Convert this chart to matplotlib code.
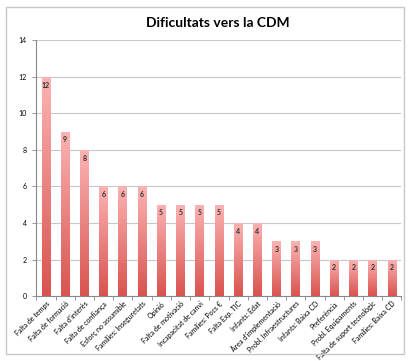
import matplotlib
matplotlib.use("Agg")
import matplotlib.pyplot as plt
import numpy as np
from matplotlib.colors import LinearSegmentedColormap
from matplotlib.patches import Rectangle

categories = ["Falta de temps", "Falta de formació", "Falta d'interès", "Falta de confiança",
              "Esforç no assumible", "Famílies: Inseguretats", "Opinió", "Falta de motivació",
              "Incapacitat de canvi", "Famílies: Pocs €", "Falta Exp. TIC", "Infants: Edat",
              "Àrea d'implementació", "Probl. Infraestructures", "Infants: Baixa CD", "Preferència",
              "Probl. Equipaments", "Falta de suport tecnològic", "Famílies: Baixa CD"]
values = [12, 9, 8, 6, 6, 6, 5, 5, 5, 5, 4, 4, 3, 3, 3, 2, 2, 2, 2]
yticks = [0, 2, 4, 6, 8, 10, 12, 14]
title = "Dificultats vers la CDM"

plt.rcParams['font.family'] = ['Lato', 'DejaVu Sans']

fig = plt.figure(figsize=(4.08, 3.61), dpi=100)
ax = fig.add_axes([0.089, 0.18, 0.895, 0.708])

x = np.arange(len(categories))
bars = ax.bar(x, values, width=0.45, color='none', edgecolor='none', zorder=3)

cmap = LinearSegmentedColormap.from_list('g', ['#D9534F', '#FBB3B3'])
grad = np.linspace(0, 1, 256).reshape(-1, 1)
for b in bars:
    bx, by = b.get_x(), b.get_y()
    w, h = b.get_width(), b.get_height()
    im = ax.imshow(grad, extent=[bx, bx + w, by, by + h], origin='lower', cmap=cmap,
                   aspect='auto', zorder=3)
    im.set_clip_path(b)
    ax.text(bx + w / 2, h - 0.25, str(int(h)), ha='center', va='top', fontsize=5,
            fontweight='bold', color='#333333', zorder=4)

ax.set_xlim(-0.5, len(categories) - 0.5)
ax.set_ylim(0, 14)
ax.set_yticks(yticks)
ax.set_yticklabels([str(v) for v in yticks], fontsize=5)
ax.yaxis.grid(True, color='#C8C8C8', linewidth=0.8, zorder=0)
ax.set_axisbelow(True)

ax.set_xticks(x)
ax.set_xticklabels(categories, rotation=45, ha='right', rotation_mode='anchor', fontsize=5)
ax.tick_params(axis='x', length=0, pad=3)
ax.set_xticks(np.arange(-0.5, len(categories) + 0.5, 1), minor=True)
ax.tick_params(axis='x', which='minor', length=3, color='#888888', width=0.6)
ax.tick_params(axis='y', length=3, color='#888888', width=0.6, pad=4)

for s in ['top', 'right']:
    ax.spines[s].set_visible(False)
for s in ['left', 'bottom']:
    ax.spines[s].set_color('#888888')
    ax.spines[s].set_linewidth(0.8)

fig.text(0.535, 0.935, title, ha='center', va='center', fontsize=10, fontweight='bold')

fig.patches.append(Rectangle((0.015, 0.02), 0.975, 0.96, transform=fig.transFigure,
                             fill=False, edgecolor='#C8C8C8', linewidth=1.0))

fig.savefig('out.png', dpi=100)
